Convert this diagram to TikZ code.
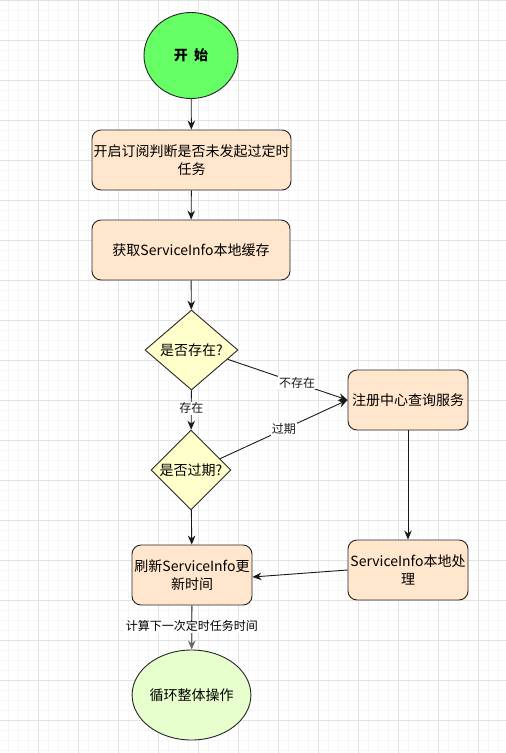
\documentclass[tikz,border=0pt]{standalone}
\usepackage{fontspec}
\newfontfamily\cjk{Noto Sans CJK SC}
\usetikzlibrary{arrows.meta,shapes.geometric,positioning,calc}
\definecolor{StartGreen}{RGB}{102,255,102}
\definecolor{EndGreen}{RGB}{230,255,204}
\definecolor{StepOrange}{RGB}{255,230,204}
\definecolor{AskYellow}{RGB}{255,255,204}
\definecolor{GridMajor}{RGB}{226,226,226}
\definecolor{GridMinor}{RGB}{246,246,246}
\definecolor{LineGray}{RGB}{102,102,102}

\begin{document}
\begin{tikzpicture}[x=1pt,y=-1pt,
  base/.style={draw=black!85,line width=0.9pt,align=center,inner sep=1pt,font=\cjk\fontsize{14}{18}\selectfont},
  stepbox/.style={base,fill=StepOrange,rounded corners=9pt,minimum height=60pt},
  ask/.style={base,diamond,fill=AskYellow,aspect=1.16,inner sep=0pt},
  endpoint/.style={base,ellipse,inner sep=0pt},
  flow/.style={-{Stealth[length=9pt,width=7.5pt]},line width=0.9pt,black!90},
  tag/.style={fill=white,inner sep=1pt,font=\cjk\fontsize{12}{14}\selectfont}
]
  % grid background
  \useasboundingbox (0,0) rectangle (506,753);
  \fill[white] (0,0) rectangle (506,753);
  \foreach \gx in {-2,8,...,506} \draw[GridMinor,line width=0.8pt] (\gx,0) -- (\gx,753);
  \foreach \gy in {0,10,...,753} \draw[GridMinor,line width=0.8pt] (0,\gy) -- (506,\gy);
  \foreach \gx in {38,78,...,506} \draw[GridMajor,line width=0.8pt] (\gx,0) -- (\gx,753);
  \foreach \gy in {0,40,...,753} \draw[GridMajor,line width=0.8pt] (0,\gy) -- (506,\gy);

  % nodes
  \node[endpoint,fill=StartGreen,minimum width=94pt,minimum height=86pt] (start) at (191,55.5) {\textbf{开\ \ 始}};
  \node[stepbox,minimum width=199pt] (sub) at (191.5,160) {开启订阅判断是否未发起过定时\\任务};
  \node[stepbox,minimum width=198pt] (cache) at (191,250) {获取ServiceInfo本地缓存};
  \node[ask,minimum width=93pt,minimum height=80pt] (exist) at (191.5,350) {是否存在?};
  \node[ask,minimum width=80pt,minimum height=80pt,aspect=1] (expire) at (191,470) {是否过期?};
  \node[stepbox,minimum width=120pt] (query) at (408,400) {注册中心查询服务};
  \node[stepbox,minimum width=120pt] (local) at (408,570) {ServiceInfo本地处\\理};
  \node[stepbox,minimum width=120pt] (refresh) at (192,575) {刷新ServiceInfo更\\新时间};
  \node[endpoint,fill=EndGreen,minimum width=99pt,minimum height=90pt] (loop) at (191.5,695) {循环整体操作};

  % side exits on the diamond edges
  \coordinate (existout) at ($(exist.east)!0.23!(exist.south)$);
  \coordinate (expireout) at ($(expire.east)!0.28!(expire.north)$);

  % connectors
  \draw[flow] (start) -- (sub);
  \draw[flow] (sub) -- (cache);
  \draw[flow] (cache) -- (exist);
  \draw[flow] (exist) -- node[tag,pos=0.45] {存在} (expire);
  \draw[flow] (existout) -- node[tag,pos=0.58] {不存在} (query.west);
  \draw[flow] (expireout) -- node[tag,pos=0.5] {过期} (query.west);
  \draw[flow] (query) -- (local);
  \draw[flow] (local.west) -- ([yshift=-2pt]refresh.east);
  \draw[flow] (expire) -- (refresh);
  \draw[flow,LineGray,line width=1.3pt] (refresh) -- node[tag,pos=0.47,text=black] {计算下一次定时任务时间} (loop);
\end{tikzpicture}
\end{document}
